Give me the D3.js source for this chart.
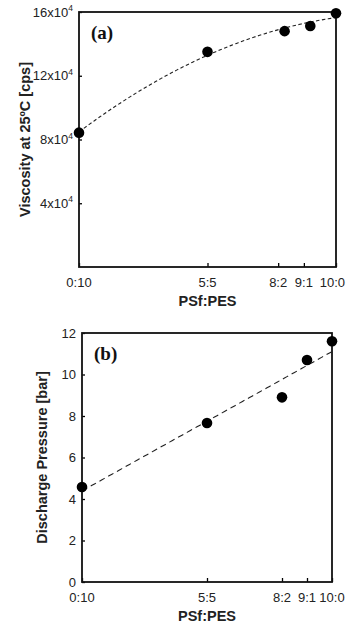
<!DOCTYPE html>
<html><head><meta charset="utf-8">
<script src="https://cdn.jsdelivr.net/npm/d3@7"></script>
<style>body{margin:0;background:#fff}svg{display:block}</style>
</head><body>
<svg id="c" width="347" height="624"></svg>
<script>
// ---- data ----
const categories = ["0:10", "5:5", "8:2", "9:1", "10:0"];
const psfRatio = [0, 5, 8, 9, 10];
// tick positions as drawn on the reference axes
const tickPosA = [0, 5, 7.75, 8.75, 10];
const tickPosB = [0, 5, 8, 9, 10];
const viscosity = [8.43, 13.5, 14.8, 15.12, 15.92]; // x10^4 cps
const pressure = [4.58, 7.66, 8.9, 10.7, 11.6];      // bar
const viscTicks = [4, 8, 12, 16];
const presTicks = [0, 2, 4, 6, 8, 10, 12];

const W = 347;
const svg = d3.select("#c");
const sans = "'Liberation Sans', Arial, sans-serif";
const serif = "'Liberation Serif', 'Times New Roman', serif";

function polyfit(xs, ys, deg) {
  const n = deg + 1;
  const A = Array.from({length: n}, () => new Array(n + 1).fill(0));
  for (let r = 0; r < n; r++) {
    for (let c = 0; c < n; c++) A[r][c] = d3.sum(xs, x => Math.pow(x, r + c));
    A[r][n] = d3.sum(xs, (x, i) => ys[i] * Math.pow(x, r));
  }
  for (let i = 0; i < n; i++) {
    let p = i;
    for (let k = i + 1; k < n; k++) if (Math.abs(A[k][i]) > Math.abs(A[p][i])) p = k;
    [A[i], A[p]] = [A[p], A[i]];
    for (let k = 0; k < n; k++) if (k !== i) {
      const f = A[k][i] / A[i][i];
      for (let j = i; j <= n; j++) A[k][j] -= f * A[i][j];
    }
  }
  const coef = A.map((row, i) => row[n] / row[i]);
  return x => coef.reduce((s, c, i) => s + c * Math.pow(x, i), 0);
}

function panel(o) {
  const g = svg.append("g");
  const x = d3.scaleLinear().domain([0, 10]).range([o.left, o.right]);
  const y = d3.scaleLinear().domain(o.yDomain).range([o.bottom, o.top]);

  // x axis ticks (inward)
  const xa = g.append("g").attr("transform", `translate(0,${o.bottom})`)
    .call(d3.axisTop(x).tickValues(o.tickPos).tickSize(4).tickFormat(""));
  xa.select(".domain").remove();
  xa.selectAll("line").attr("stroke", "#000").attr("stroke-width", 1.3);
  o.tickPos.forEach((t, i) => {
    const lab = g.append("text").attr("x", x(t)).attr("y", o.bottom + 19.5)
      .attr("text-anchor", "middle").attr("font-family", sans).attr("font-size", 13)
      .attr("fill", "#222").text(categories[i]);
    const half = lab.node().getComputedTextLength() / 2;
    if (x(t) + half > W - 2) lab.attr("x", W - 2 - half);
  });

  // y axis ticks (inward)
  const ya = g.append("g").attr("transform", `translate(${o.left},0)`)
    .call(d3.axisRight(y).tickValues(o.yTicks).tickSize(3).tickFormat(""));
  ya.select(".domain").remove();
  ya.selectAll("line").attr("stroke", "#000").attr("stroke-width", 1.3);
  o.yTicks.forEach(t => {
    const tx = g.append("text").attr("x", o.left - 6).attr("y", y(t) + 4.5)
      .attr("text-anchor", "end").attr("font-family", sans).attr("font-size", 13)
      .attr("fill", "#222");
    if (o.sci) {
      tx.append("tspan").text(t + "x10");
      tx.append("tspan").attr("dy", -5.5).attr("font-size", 8.5).text("4");
    } else tx.text(t);
  });

  // frame
  g.append("rect").attr("x", o.left).attr("y", o.top)
    .attr("width", o.right - o.left).attr("height", o.bottom - o.top)
    .attr("fill", "none").attr("stroke", "#111").attr("stroke-width", 1.8);

  // trend
  const f = polyfit(psfRatio, o.values, o.deg);
  const xs = d3.range(0, 10.001, 0.1);
  g.append("path").datum(xs)
    .attr("d", d3.line().x(d => x(d)).y(d => y(f(d))))
    .attr("fill", "none").attr("stroke", "#222").attr("stroke-width", 1.1)
    .attr("stroke-dasharray", o.dash);

  // points
  g.selectAll("circle.p").data(o.values).join("circle")
    .attr("cx", (d, i) => x(psfRatio[i])).attr("cy", d => y(d))
    .attr("r", 5.3).attr("fill", "#000");

  // panel label
  g.append("text").attr("x", o.left + 12).attr("y", o.top + 27)
    .attr("font-family", serif).attr("font-weight", "bold").attr("font-size", 19)
    .attr("fill", "#111").text(o.label);

  // axis titles
  g.append("text").attr("x", (o.left + o.right) / 2).attr("y", o.bottom + 39)
    .attr("text-anchor", "middle").attr("font-family", sans).attr("font-weight", "bold")
    .attr("font-size", 14.5).attr("fill", "#222").text("PSf:PES");
  g.append("text")
    .attr("transform", `translate(${o.ylabX},${(o.top + o.bottom) / 2}) rotate(-90)`)
    .attr("text-anchor", "middle").attr("font-family", sans).attr("font-weight", "bold")
    .attr("font-size", 14.5).attr("fill", "#222").text(o.ylabel);
}

panel({left: 79, right: 336, top: 12, bottom: 267, yDomain: [0, 16], yTicks: viscTicks,
  tickPos: tickPosA, values: viscosity, deg: 2, dash: "3.5,2.5", label: "(a)", sci: true,
  ylabel: "Viscosity at 25\u00BAC [cps]", ylabX: 30});
panel({left: 82, right: 332, top: 333, bottom: 582, yDomain: [0, 12], yTicks: presTicks,
  tickPos: tickPosB, values: pressure, deg: 1, dash: "6,4", label: "(b)", sci: false,
  ylabel: "Discharge Pressure [bar]", ylabX: 47});
</script>
</body></html>
